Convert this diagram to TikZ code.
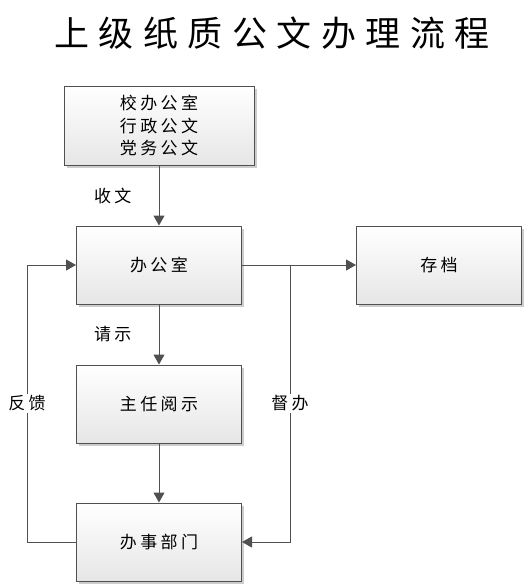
\documentclass[tikz,border=0pt]{standalone}
\usepackage{fontspec}
\newfontfamily\cjk[LetterSpace=20]{Noto Sans CJK SC}
\newfontfamily\cjktitle[LetterSpace=27]{Noto Sans CJK SC}
\usetikzlibrary{arrows.meta,positioning,shadows}
\definecolor{linegray}{RGB}{80,80,80}
\definecolor{boxgray}{RGB}{230,230,230}

\begin{document}
\begin{tikzpicture}[
  node distance=60pt and 114pt,
  box/.style={rectangle,draw=linegray,line width=1pt,top color=white,bottom color=boxgray,
    drop shadow={shadow xshift=2.5pt,shadow yshift=-2.5pt,fill=black,opacity=0.2},
    minimum width=165pt,minimum height=78pt,align=center,
    font=\cjk\fontsize{17}{22.5}\selectfont},
  lbl/.style={fill=white,inner sep=2pt,font=\cjk\fontsize{17}{20}\selectfont},
  flow/.style={->,draw=linegray,line width=1pt},
  >={Triangle[length=10pt,width=11pt]}
]
\useasboundingbox (0,0) rectangle (529pt,-587pt);
\node[font=\cjktitle\fontsize{35}{40}\selectfont] (title) at (272pt,-33pt) {上级纸质公文办理流程};
\node[box,minimum width=190pt,minimum height=79pt] (src) at (159pt,-125.5pt) {校办公室\\行政公文\\党务公文};
\node[box,below=of src] (office) {办公室};
\node[box,right=of office] (archive) {存档};
\node[box,below=of office] (chief) {主任阅示};
\node[box,below=59pt of chief] (dept) {办事部门};
\coordinate (jn) at ([xshift=48pt]office.east);

\draw[flow] (src) -- node[lbl,left=25pt] (shou) {收文} (office);
\draw[flow] (office) -- node[lbl,left=25pt] (qing) {请示} (chief);
\draw[flow] (chief) -- (dept);
\draw[flow] (office) -- (archive);
\draw[flow] (dept.west) -- ++(-49pt,0) |- node[lbl,pos=0.25] (fk) {反馈} (office.west);
\draw[flow] (jn) |- node[lbl,pos=0.25] (db) {督办} (dept.east);
\end{tikzpicture}
\end{document}
